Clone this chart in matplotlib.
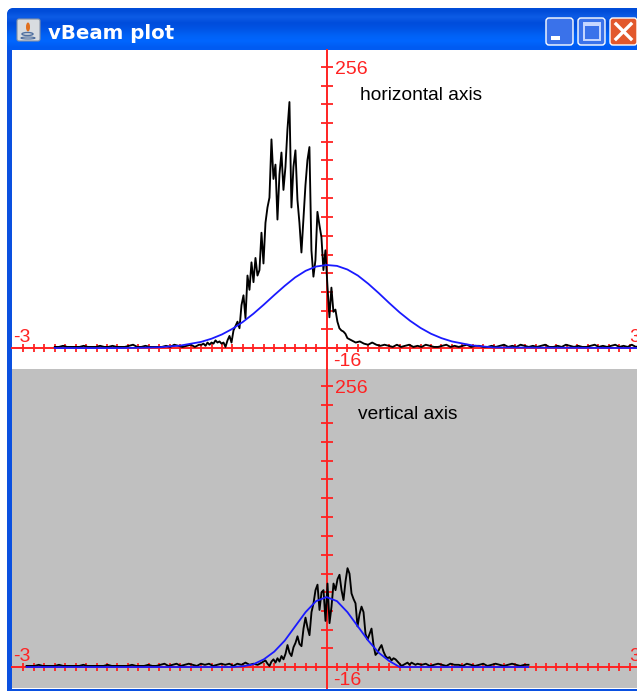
import numpy as np
import matplotlib
matplotlib.use('Agg')
import matplotlib.pyplot as plt
from matplotlib.patches import FancyBboxPatch, Rectangle, Ellipse

W, H = 637, 691

# measured beam, horizontal axis (three stretches of the trace)
h_left = [1, 1, 2, 1, 1, 1, 1, 2, 1, 1, 1, 2, 1, 1, 2, 1, 1, 1, 2, 3, 1, 1, 2, 1, 1, 1, 1, 2, 1, 3, 2, 1, 2, 3, 1, 3]
h_peak = [3, 4, 2, 5, 3, 5, 4, 7, 5, 6, 4, 5, 1, 7, 11, 5, 16, 20, 24, 18, 39, 48, 27, 66, 53, 78, 60, 82, 66, 71,
          105, 77, 114, 128, 137, 190, 154, 167, 117, 158, 178, 144, 165, 199, 224, 128, 165, 180, 135, 114, 87,
          118, 148, 171, 183, 89, 65, 80, 124, 112, 101, 71, 89, 57, 28, 55, 33, 35, 24, 18, 16, 15, 13, 9]
h_right = [7, 5, 6, 4, 3, 5, 3, 2, 3, 2, 1, 3, 1, 2, 3, 1, 2, 1, 3, 2, 1, 1, 2, 3, 1, 2, 1, 2, 3, 1, 2, 2, 1, 1, 2, 1,
           2, 3, 1, 2, 1, 3, 2, 1, 2, 1, 2, 3, 1, 1, 2, 1, 3, 2, 1, 2, 1, 1, 2, 3, 1, 2, 1, 2, 3, 1, 2, 1, 3, 1, 2]
# gaussian fit, horizontal axis
h_fit_x = [-2.6, -2.0, -1.8, -1.6, -1.4, -1.2, -1.1, -1.0, -0.9, -0.8, -0.7, -0.6, -0.5, -0.4, -0.3, -0.2, -0.1, 0.0,
           0.1, 0.2, 0.3, 0.4, 0.5, 0.6, 0.7, 0.8, 0.9, 1.0, 1.1, 1.2, 1.4, 1.6, 3.0]
h_fit = [0, 0, 0.2, 0.7, 2.2, 5.6, 8.5, 12.4, 17.5, 23.8, 31.2, 39.5, 48.2, 56.6, 64.3, 70.3, 74.2, 75.6,
         74.8, 71.5, 66, 58.5, 50, 41, 32.4, 24.8, 18.3, 13, 9, 6, 2.3, 0.5, 0]

# measured beam, vertical axis
v_left = [1, 1, 1, 2, 1, 1, 1, 1, 2, 1, 1, 1, 1, 1, 2, 1, 1, 1, 1, 1, 2, 1, 1, 1, 1, 1, 2, 1, 1, 1, 2, 1, 1, 2, 3, 1,
          2, 3, 1, 2, 3, 2, 1, 3, 2, 3, 1, 2, 3, 2, 3, 1, 3, 2, 4, 2, 3, 2, 4]
v_peak = [5, 6, 3, 1, 5, 7, 4, 8, 5, 10, 7, 12, 20, 13, 10, 18, 22, 28, 21, 19, 35, 45, 36, 29, 50, 58, 70, 75, 52, 68,
          70, 42, 76, 40, 55, 76, 70, 80, 84, 70, 61, 78, 90, 85, 67, 62, 58, 37, 48, 55, 50, 30, 25, 30, 35, 20, 11,
          13, 17, 20, 14, 10, 8, 9, 6, 8, 7, 5, 3, 1, 2, 3, 4, 2, 4, 3, 2]
v_right = [3, 2, 3, 1, 2, 3, 2, 1, 3, 2, 2, 1, 3, 2, 1, 2, 3, 1, 2, 3, 2, 1, 2, 3, 2, 1, 2, 2]
v_fit_x = [-2.87, -0.9, -0.8, -0.7, -0.6, -0.5, -0.4, -0.3, -0.2, -0.1, 0.0, 0.1, 0.2, 0.3, 0.4, 0.5, 0.6, 0.7, 1.93]
v_fit = [0, 0, 0.7, 2.5, 7, 14, 24, 37, 50, 60, 63.7, 60, 50, 37, 24, 13, 5.5, 0, 0]

y_ticks = [0, 17, 34, 51, 68, 85, 102, 119, 137, 154, 171, 188, 205, 222, 239, 256]
red = '#ff2222'
blue = '#1a1aff'
plt.rcParams['font.family'] = ['Liberation Sans']

fig = plt.figure(figsize=(W / 100, H / 100), dpi=100, facecolor='white')

# window frame, drawn in pixel coordinates
chrome = fig.add_axes([0, 0, 1, 1], zorder=0)
chrome.set_xlim(0, W)
chrome.set_ylim(H, 0)
chrome.axis('off')
frame = FancyBboxPatch((7, 8), W + 10, H, boxstyle='round,pad=0,rounding_size=7', fc='#0a50e0', ec='none')
chrome.add_patch(frame)
grad = np.array([[[0.0, 0.30, 0.85]], [[0.05, 0.36, 0.90]], [[0.0, 0.30, 0.86]], [[0.0, 0.33, 0.90]],
                 [[0.0, 0.38, 0.96]], [[0.0, 0.40, 1.0]], [[0.0, 0.36, 0.95]]])
im = chrome.imshow(grad, extent=(7, W, 50, 8), aspect='auto', interpolation='bilinear', zorder=1)
im.set_clip_path(frame)
chrome.set_xlim(0, W)
chrome.set_ylim(H, 0)
chrome.add_patch(Rectangle((12, 50), W - 12, 639, fc='white', ec='none', zorder=2))
chrome.add_patch(Rectangle((7, 689), W - 7, 2, fc='#0a50e0', ec='none', zorder=2))
chrome.text(48, 33, 'vBeam plot', color='white', fontsize=14.2, fontweight='bold', family='DejaVu Sans',
            va='center', ha='left', zorder=3)

# java icon
chrome.add_patch(FancyBboxPatch((17, 19), 23, 22, boxstyle='round,pad=0,rounding_size=2', fc='#d8dce0',
                                ec='#8090a8', lw=0.8, zorder=3))
chrome.add_patch(Ellipse((28, 27), 4, 9, fc='#e07020', ec='none', zorder=4))
chrome.add_patch(Ellipse((27.5, 34), 11, 3, fc='none', ec='#5070a0', lw=1, zorder=4))
chrome.add_patch(Ellipse((28, 38), 14, 2, fc='none', ec='#5070a0', lw=0.8, zorder=4))

# min / max / close buttons
for x0, col in zip([546, 578, 610], ['#3a72ea', '#3a72ea', '#e2582c']):
    chrome.add_patch(FancyBboxPatch((x0, 18), 27, 27, boxstyle='round,pad=0,rounding_size=3', fc=col,
                                    ec='white', lw=1.0, zorder=3))
chrome.add_patch(Rectangle((551, 36), 9, 4, fc='white', ec='none', zorder=4))
chrome.add_patch(Rectangle((584, 23), 16, 17, fc='none', ec='#c8d8ff', lw=1.4, zorder=4))
chrome.add_patch(Rectangle((584, 23), 16, 3, fc='#c8d8ff', ec='none', zorder=4))
chrome.plot([616, 631], [24, 39], color='white', lw=2.4, zorder=4)
chrome.plot([616, 631], [39, 24], color='white', lw=2.4, zorder=4)


def panel(top, bg, x_parts, h_parts, fit_x, fit_y, label, label_x):
    ax = fig.add_axes([12 / W, 1 - (top + 319) / H, (W - 12) / W, 319 / H], facecolor=bg, zorder=1)
    for s in ['top', 'right']:
        ax.spines[s].set_visible(False)
    for s in ['left', 'bottom']:
        ax.spines[s].set_position(('data', 0))
        ax.spines[s].set_color(red)
        ax.spines[s].set_linewidth(1.4)
    ax.set_xticks(np.arange(-29, 31) / 10)
    ax.set_yticks(y_ticks)
    ax.tick_params(axis='x', direction='inout', length=6, width=1.3, color=red, labelbottom=False)
    ax.tick_params(axis='y', direction='inout', length=9, width=1.3, color=red, labelleft=False)

    xs = np.concatenate(x_parts)
    ys = np.concatenate(h_parts)
    ax.plot(xs, ys, color='black', lw=1.35, zorder=3)
    ax.plot(fit_x, fit_y, color=blue, lw=1.3, zorder=4)

    # limits last, set_xticks would widen them otherwise
    ax.set_xlim((12 - 326.5) / 104.5, (W - 326.5) / 104.5)
    ax.set_ylim(-19.1, 271.4)

    kw = dict(color=red, fontsize=14, va='center', zorder=5)
    ax.text(0.08, 254, '256', ha='left', **kw)
    ax.text(0.06, -12.5, '-16', ha='left', **kw)
    ax.text(-3.0, 9.5, '-3', ha='left', **kw)
    ax.text(2.9, 10, '3', ha='left', clip_on=True, **kw)
    ax.text(label_x, 230, label, color='black', fontsize=13.8, va='center', ha='left', zorder=5)
    return ax


panel(50, 'white',
      [np.linspace(-2.6, -1.22, len(h_left)), np.linspace(-1.196, 0.2, len(h_peak)),
       np.linspace(0.24, 3.0, len(h_right))],
      [h_left, h_peak, h_right], h_fit_x, h_fit, 'horizontal axis', 0.325)
panel(369, '#c0c0c0',
      [np.linspace(-2.87, -0.62, len(v_left)), np.linspace(-0.603, 0.852, len(v_peak)),
       np.linspace(0.871, 1.933, len(v_right))],
      [v_left, v_peak, v_right], v_fit_x, v_fit, 'vertical axis', 0.305)

fig.savefig('out.png', dpi=100)
